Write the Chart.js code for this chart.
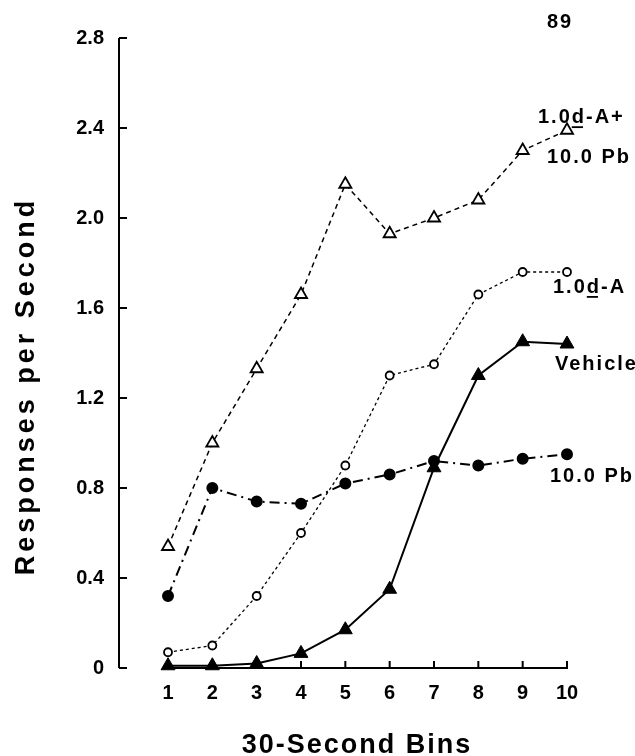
<!DOCTYPE html>
<html>
<head>
<meta charset="utf-8">
<script src="https://cdn.jsdelivr.net/npm/chart.js@4.4.1/dist/chart.umd.min.js"></script>
<style>
  html, body { margin: 0; padding: 0; background: #fff; }
  #wrap { width: 635px; height: 756px; }
</style>
</head>
<body>
<div id="wrap"><canvas id="chart" width="635" height="756"></canvas></div>
<script>
// --- data ---
const bins = [1, 2, 3, 4, 5, 6, 7, 8, 9, 10];
const yTicks = [0, 0.4, 0.8, 1.2, 1.6, 2.0, 2.4, 2.8];
const dAPlusPb = [0.54, 1.00, 1.33, 1.66, 2.15, 1.93, 2.00, 2.08, 2.30, 2.39];
const dAOnly = [0.07, 0.10, 0.32, 0.60, 0.90, 1.30, 1.35, 1.66, 1.76, 1.76];
const vehicle = [0.01, 0.01, 0.02, 0.065, 0.17, 0.35, 0.89, 1.30, 1.45, 1.44];
const pbOnly = [0.32, 0.80, 0.74, 0.73, 0.82, 0.86, 0.92, 0.90, 0.93, 0.95];

const FONT = '"Liberation Sans", Arial, Helvetica, sans-serif';

function pts(vals) {
    return bins.map((b, i) => ({ x: b, y: vals[i] }));
}

// axes drawn by hand: separated y and x axis lines with inward ticks
const axesPlugin = {
    id: 'axes',
    beforeDatasetsDraw(chart) {
        const ctx = chart.ctx;
        const xs = chart.scales.x, ys = chart.scales.y;
        const ax = xs.left - 1;
        const y0 = ys.getPixelForValue(0);
        ctx.save();
        ctx.strokeStyle = '#000';
        ctx.lineWidth = 2;
        ctx.beginPath();
        ctx.moveTo(ax, ys.getPixelForValue(yTicks[yTicks.length - 1]));
        ctx.lineTo(ax, y0);
        yTicks.forEach(v => {
            const p = ys.getPixelForValue(v);
            ctx.moveTo(ax, p);
            ctx.lineTo(ax + 8, p);
        });
        ctx.stroke();
        ctx.beginPath();
        ctx.moveTo(xs.getPixelForValue(bins[0]) - 6, y0);
        ctx.lineTo(xs.getPixelForValue(bins[bins.length - 1]) + 1, y0);
        bins.forEach(b => {
            const p = xs.getPixelForValue(b);
            ctx.moveTo(p, y0);
            ctx.lineTo(p, y0 - 7);
        });
        ctx.stroke();
        ctx.restore();
    }
};

// draws text, underlining the "d" of "1.0d"
function label(ctx, txt, x, y) {
    ctx.fillText(txt, x, y);
    const i = txt.indexOf('d');
    if (i >= 0) {
        const pre = ctx.measureText(txt.slice(0, i)).width;
        const w = ctx.measureText('d').width - 3;
        ctx.fillRect(x + pre, y + 3, w, 1.8);
    }
}

const textPlugin = {
    id: 'texts',
    afterDraw(chart) {
        const ctx = chart.ctx;
        const xs = chart.scales.x, ys = chart.scales.y;
        const last = bins.length - 1;
        const xEnd = xs.getPixelForValue(bins[last]);
        ctx.save();
        ctx.fillStyle = '#000';
        ctx.textBaseline = 'alphabetic';
        ctx.textAlign = 'left';
        ctx.font = 'bold 20px ' + FONT;
        ctx.letterSpacing = '2px';
        ctx.fillText('89', xEnd - 20, 28);
        label(ctx, '1.0d-A+', xEnd - 29, ys.getPixelForValue(dAPlusPb[last]) - 7);
        ctx.fillText('10.0 Pb', xEnd - 20, ys.getPixelForValue(dAPlusPb[last]) + 33);
        label(ctx, '1.0d-A', xEnd - 14, ys.getPixelForValue(dAOnly[last]) + 21);
        ctx.fillText('Vehicle', xEnd - 12, ys.getPixelForValue(vehicle[last]) + 26);
        ctx.fillText('10.0 Pb', xEnd - 17, ys.getPixelForValue(pbOnly[last]) + 28);

        // axis titles
        ctx.font = 'bold 27px ' + FONT;
        ctx.letterSpacing = '2px';
        ctx.textAlign = 'center';
        ctx.fillText('30-Second Bins', 357, 753);
        ctx.translate(34, 386);
        ctx.rotate(-Math.PI / 2);
        ctx.letterSpacing = '4px';
        ctx.fillText('Responses per Second', 0, 0);
        ctx.restore();
    }
};

const ctx = document.getElementById('chart');
new Chart(ctx, {
    type: 'line',
    data: {
        datasets: [
            {
                label: '1.0d-A+ 10.0 Pb',
                data: pts(dAPlusPb),
                borderColor: '#000',
                borderWidth: 1.5,
                borderDash: [5, 4],
                pointStyle: 'triangle',
                pointRadius: 7,
                pointBorderWidth: 1.8,
                pointBackgroundColor: '#fff',
                pointBorderColor: '#000',
                clip: false
            },
            {
                label: '1.0d-A',
                data: pts(dAOnly),
                borderColor: '#000',
                borderWidth: 1.3,
                borderDash: [3, 3],
                pointStyle: 'circle',
                pointRadius: 4,
                pointBorderWidth: 1.8,
                pointBackgroundColor: '#fff',
                pointBorderColor: '#000',
                clip: false
            },
            {
                label: 'Vehicle',
                data: pts(vehicle),
                borderColor: '#000',
                borderWidth: 2,
                pointStyle: 'triangle',
                pointRadius: 8,
                pointBorderWidth: 1,
                pointBackgroundColor: '#000',
                pointBorderColor: '#000',
                clip: false
            },
            {
                label: '10.0 Pb',
                data: pts(pbOnly),
                borderColor: '#000',
                borderWidth: 2,
                borderDash: [10, 5, 2, 5],
                pointStyle: 'circle',
                pointRadius: 5,
                pointBackgroundColor: '#000',
                pointBorderColor: '#000',
                clip: false
            }
        ]
    },
    options: {
        responsive: false,
        animation: false,
        layout: { padding: { left: 0, right: 68, top: 38, bottom: 0 } },
        plugins: {
            legend: { display: false },
            tooltip: { enabled: false }
        },
        scales: {
            x: {
                type: 'linear',
                min: -0.083,
                max: 10,
                grid: { display: false },
                border: { display: false },
                afterFit: s => { s.height = 88; },
                afterBuildTicks: s => { s.ticks = bins.map(v => ({ value: v })); },
                ticks: {
                    color: '#000',
                    padding: 5,
                    font: { family: FONT, size: 20, weight: 'bold' },
                    callback: v => String(v)
                }
            },
            y: {
                min: 0,
                max: 2.8,
                grid: { display: false },
                border: { display: false },
                afterFit: s => { s.width = 120; },
                afterBuildTicks: s => { s.ticks = yTicks.map(v => ({ value: v })); },
                ticks: {
                    color: '#000',
                    padding: 8,
                    font: { family: FONT, size: 20, weight: 'bold' },
                    callback: v => (v === 0 ? '0' : v.toFixed(1))
                }
            }
        }
    },
    plugins: [axesPlugin, textPlugin]
});
</script>
</body>
</html>
